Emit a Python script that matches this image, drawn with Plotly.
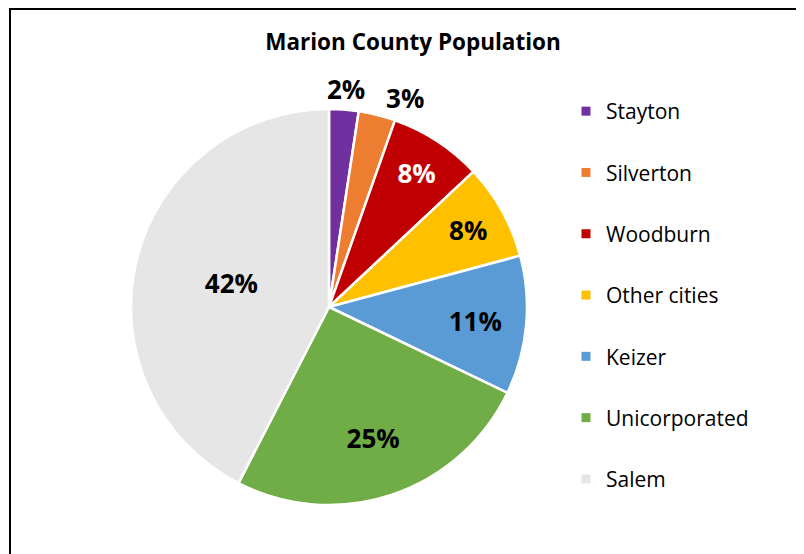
import math
import plotly.graph_objects as go

labels = ["Stayton", "Silverton", "Woodburn", "Other cities", "Keizer", "Unicorporated", "Salem"]
values = [2.4, 3.0, 7.6, 7.8, 11.3, 25.4, 42.4]
colors = ["#7030A0", "#ED7D31", "#C00000", "#FFC000", "#5B9BD5", "#70AD47", "#E7E6E6"]
text_colors = ["black", "black", "white", "black", "black", "black", "black"]
# main pie carries most labels; a transparent overlay (with a hole, so its inside
# label sits further out) carries the Silverton and Unicorporated labels;
# the Stayton label is an annotation placed from the slice's mid angle
main_positions = ["none", "none", "inside", "inside", "inside", "none", "inside"]
overlay_positions = ["none", "outside", "none", "none", "none", "inside", "none"]
title_text = "Marion County Population"

W, H = 804, 554
OFF = 8  # page body margin
FONT = "Open Sans, sans-serif"

cx, cy, R = 329 - OFF, 307 - OFF, 198
dom = dict(x=[(cx - R) / W, (cx + R) / W], y=[(H - cy - R) / H, (H - cy + R) / H])

fig = go.Figure()
fig.add_trace(go.Pie(
    labels=labels, values=values, sort=False, direction="clockwise", rotation=0,
    marker=dict(colors=colors, line=dict(color="white", width=2.5)),
    texttemplate="<b>%{percent:.0%}</b>", textposition=main_positions,
    insidetextorientation="horizontal",
    textfont=dict(color=text_colors, size=26, family=FONT),
    showlegend=False, hoverinfo="label+percent", domain=dom,
))
fig.add_trace(go.Pie(
    labels=labels, values=values, sort=False, direction="clockwise", rotation=0, hole=0.40,
    marker=dict(colors=["rgba(0,0,0,0)"] * len(labels), line=dict(width=0)),
    texttemplate="<b>%{percent:.0%}</b>", textposition=overlay_positions,
    insidetextorientation="horizontal",
    textfont=dict(color=text_colors, size=26, family=FONT),
    showlegend=False, hoverinfo="skip", domain=dom,
))

# Stayton outside label from its mid angle
total = sum(values)
mid = 2 * math.pi * (values[0] / 2) / total
rl = R + 21
sx, sy = cx + rl * math.sin(mid), cy - rl * math.cos(mid)
fig.add_annotation(x=sx / W, y=1 - sy / H, xref="paper", yref="paper",
                   text="<b>%d%%</b>" % round(100 * values[0] / total), showarrow=False,
                   xanchor="center", yanchor="middle",
                   font=dict(size=26, family=FONT, color=text_colors[0]))

for lab, col in zip(labels, colors):
    fig.add_trace(go.Scatter(
        x=[None], y=[None], mode="markers", name=lab, legendgroup=lab,
        marker=dict(symbol="square", size=9, color=col),
        showlegend=True,
    ))

fig.update_layout(
    width=W, height=H,
    margin=dict(l=0, r=0, t=0, b=0),
    paper_bgcolor="white", plot_bgcolor="white",
    xaxis=dict(visible=False), yaxis=dict(visible=False),
    title=dict(text="<b>" + title_text + "</b>", x=(413 - OFF) / W, xanchor="center",
               y=1 - (42 - OFF) / H, yanchor="middle", font=dict(size=22.5, family=FONT, color="black")),
    legend=dict(x=(566 - OFF) / W, xanchor="left", y=1 - (91 - OFF) / H, yanchor="top",
                font=dict(size=21, family=FONT, color="black"),
                tracegroupgap=31, itemwidth=30, bgcolor="rgba(0,0,0,0)"),
    shapes=[dict(type="rect", xref="paper", yref="paper",
                 x0=(10 - OFF) / W, x1=1.05, y0=-0.05, y1=1 - 1 / H,
                 line=dict(color="black", width=2))],
)

fig.write_html("out.html")
